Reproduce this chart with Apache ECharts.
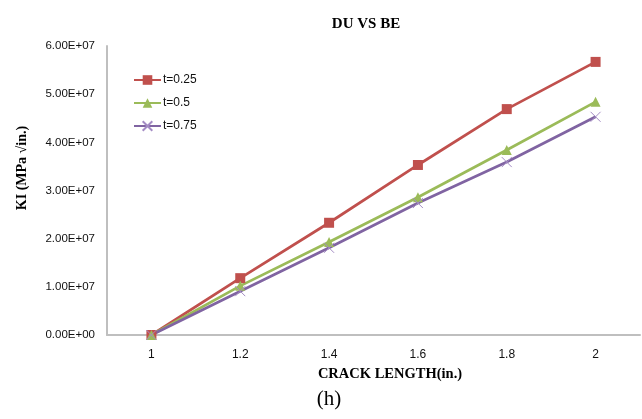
<!DOCTYPE html>
<html>
<head>
<meta charset="utf-8">
<script src="https://cdn.jsdelivr.net/npm/echarts@6/dist/echarts.min.js"></script>
<style>
  html, body { margin: 0; padding: 0; background: #fff; }
  #chart { width: 642px; height: 419px; }
</style>
</head>
<body>
<div id="chart"></div>
<script>
// Crack length (in.) categories
const crackLength = ['1', '1.2', '1.4', '1.6', '1.8', '2'];

// KI values for each thickness ratio
const kiT025 = [0, 1.18e7, 2.33e7, 3.53e7, 4.69e7, 5.67e7];
const kiT050 = [0, 1.02e7, 1.93e7, 2.86e7, 3.84e7, 4.84e7];
const kiT075 = [0, 0.91e7, 1.81e7, 2.74e7, 3.59e7, 4.53e7];

const seriesNames = ['t=0.25', 't=0.5', 't=0.75'];
const yTicks = [0, 1e7, 2e7, 3e7, 4e7, 5e7, 6e7];

// Excel-style scientific notation, e.g. 6.00E+07
function sci(v) {
  if (v === 0) return '0.00E+00';
  const e = Math.floor(Math.log10(Math.abs(v)));
  const m = v / Math.pow(10, e);
  const es = (e < 0 ? '-' : '+') + String(Math.abs(e)).padStart(2, '0');
  return m.toFixed(2) + 'E' + es;
}

const serif = '"Liberation Serif", "Times New Roman", serif';
const sans = '"Liberation Sans", Arial, sans-serif';

const chart = echarts.init(document.getElementById('chart'));
chart.setOption({
  animation: false,
  backgroundColor: '#ffffff',
  title: {
    text: 'DU VS BE',
    left: 361, top: 12, textAlign: 'center',
    textStyle: { fontFamily: serif, fontWeight: 'bold', fontSize: 15, color: '#000' }
  },
  legend: {
    orient: 'vertical',
    left: 128, top: 69,
    itemWidth: 27, itemHeight: 12,
    itemGap: 11,
    data: seriesNames,
    textStyle: { fontFamily: sans, fontSize: 12, color: '#111', padding: [0, 0, 0, -3] }
  },
  grid: { left: 107, right: 2, top: 46, bottom: 84 },
  xAxis: {
    type: 'category',
    data: crackLength,
    boundaryGap: true,
    axisLine: { lineStyle: { color: '#bfbfbf', width: 2 } },
    axisTick: { show: false },
    axisLabel: { margin: 14, fontFamily: sans, fontSize: 12, color: '#111' },
    splitLine: { show: false }
  },
  yAxis: {
    type: 'value',
    min: yTicks[0], max: yTicks[yTicks.length - 1], interval: 1e7,
    axisLine: { show: true, lineStyle: { color: '#bfbfbf', width: 2 } },
    axisTick: { show: false },
    axisLabel: { margin: 12, fontFamily: sans, fontSize: 11.5, color: '#111', formatter: sci },
    splitLine: { show: false }
  },
  graphic: [
    {
      type: 'text', x: 22, y: 168, rotation: Math.PI / 2,
      style: {
        text: 'KI (MPa √in.)', font: 'bold 14px ' + serif,
        fill: '#000', textAlign: 'center', textVerticalAlign: 'middle'
      }
    },
    {
      type: 'text', x: 390, y: 374,
      style: {
        text: 'CRACK LENGTH(in.)', font: 'bold 14.5px ' + serif,
        fill: '#000', textAlign: 'center', textVerticalAlign: 'middle'
      }
    },
    {
      type: 'text', x: 329, y: 399,
      style: {
        text: '(h)', font: '21px ' + serif,
        fill: '#000', textAlign: 'center', textVerticalAlign: 'middle'
      }
    }
  ],
  series: [
    {
      name: seriesNames[0], type: 'line', data: kiT025,
      symbol: 'rect', symbolSize: 10,
      lineStyle: { color: '#C0504D', width: 2.75 },
      itemStyle: { color: '#C0504D' }
    },
    {
      name: seriesNames[1], type: 'line', data: kiT050,
      symbol: 'triangle', symbolSize: 10,
      lineStyle: { color: '#9BBB59', width: 2.75 },
      itemStyle: { color: '#9BBB59' }
    },
    {
      name: seriesNames[2], type: 'line', data: kiT075,
      symbol: 'path://M0,0L10,10M10,0L0,10', symbolSize: 10,
      lineStyle: { color: '#8064A2', width: 2.75 },
      itemStyle: { color: '#8064A2', borderColor: '#A48CC4', borderWidth: 1 }
    }
  ]
});
</script>
</body>
</html>
